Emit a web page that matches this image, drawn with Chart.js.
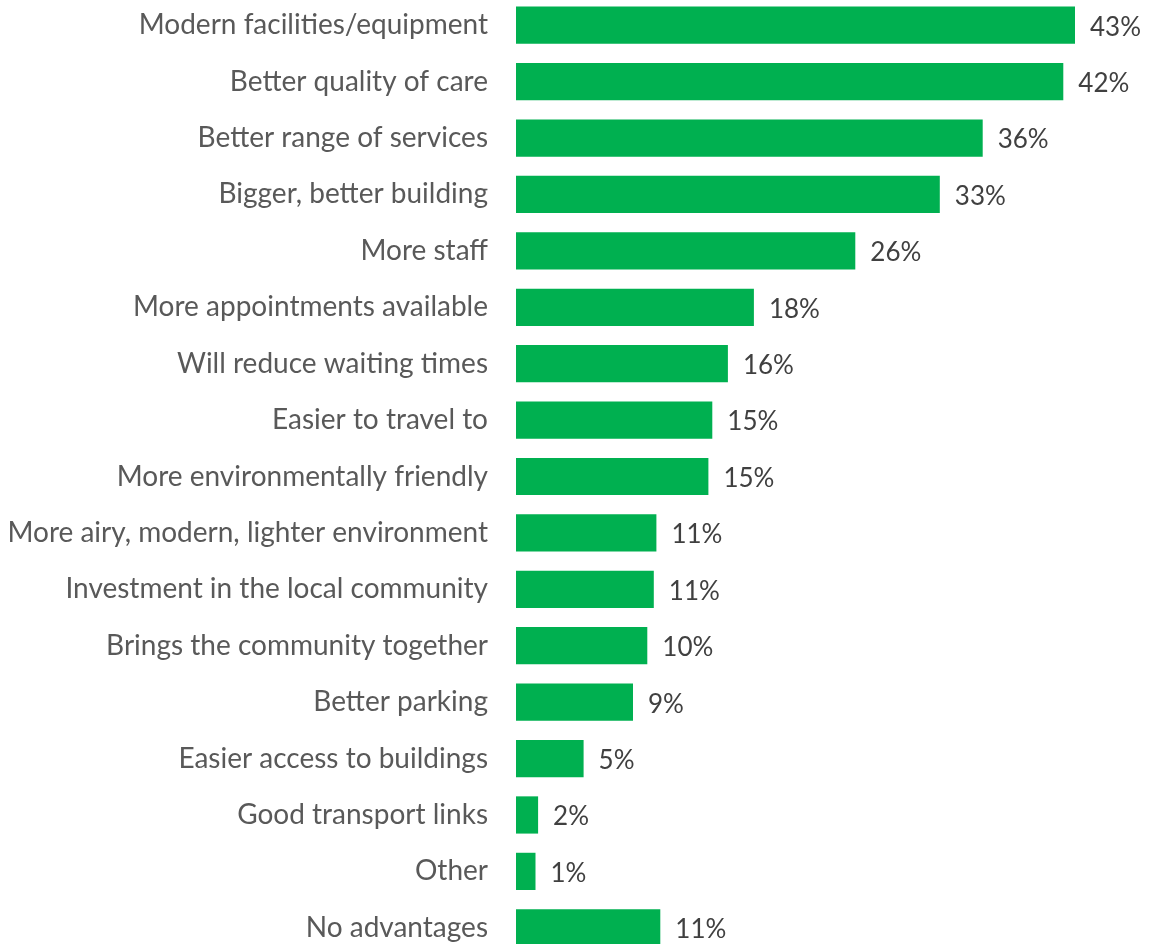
<!DOCTYPE html>
<html>
<head>
<meta charset="utf-8">
<script src="https://cdn.jsdelivr.net/npm/chart.js@4/dist/chart.umd.min.js"></script>
<style>
  html, body { margin: 0; padding: 0; background: #fff; overflow: hidden; }
  .wrap { position: absolute; left: 0; top: -3px; width: 1150px; height: 959px; }
</style>
</head>
<body>
<div class="wrap"><canvas class="chart"></canvas></div>
<script>
const categories = [
    'Modern facilities/equipment',
    'Better quality of care',
    'Better range of services',
    'Bigger, better building',
    'More staff',
    'More appointments available',
    'Will reduce waiting times',
    'Easier to travel to',
    'More environmentally friendly',
    'More airy, modern, lighter environment',
    'Investment in the local community',
    'Brings the community together',
    'Better parking',
    'Easier access to buildings',
    'Good transport links',
    'Other',
    'No advantages'
];
const shares = [43.0, 42.1, 35.9, 32.6, 26.1, 18.3, 16.3, 15.1, 14.8, 10.8, 10.6, 10.1, 9.0, 5.2, 1.7, 1.5, 11.1];
const shareLabels = ['43%', '42%', '36%', '33%', '26%', '18%', '16%', '15%', '15%', '11%', '11%', '10%', '9%', '5%', '2%', '1%', '11%'];

const fontFamily = 'Lato, "Open Sans", sans-serif';

// draws the percentage to the right of each bar
const valueLabels = {
    id: 'valueLabels',
    afterDatasetsDraw(chart) {
        const ctx = chart.ctx;
        const meta = chart.getDatasetMeta(0);
        ctx.save();
        ctx.font = `26px ${fontFamily}`;
        ctx.fillStyle = '#404040';
        ctx.textAlign = 'left';
        ctx.textBaseline = 'middle';
        meta.data.forEach((bar, i) => {
            ctx.fillText(shareLabels[i], bar.x + 15, bar.y + 2);
        });
        ctx.restore();
    }
};

const ctx = document.getElementsByClassName('chart')[0].getContext('2d');
const adsChart = new Chart(ctx, {
    type: 'bar',
    data: {
        labels: categories,
        datasets: [{
            data: shares,
            backgroundColor: '#00B050',
            borderWidth: 0,
            barPercentage: 0.66,
            categoryPercentage: 1
        }]
    },
    options: {
        indexAxis: 'y',
        responsive: true,
        maintainAspectRatio: false,
        animation: false,
        layout: { padding: { left: 0, right: 10, top: 0, bottom: 0 } },
        plugins: {
            legend: { display: false },
            tooltip: { enabled: false }
        },
        scales: {
            x: {
                display: false,
                min: 0,
                max: 48
            },
            y: {
                border: { display: false },
                grid: { display: false, drawTicks: false },
                ticks: {
                    color: '#595959',
                    padding: 28,
                    font: { family: fontFamily, size: 28 }
                },
                afterFit(scale) {
                    scale.width = 516;
                    scale.paddingTop = 0;
                    scale.paddingBottom = 0;
                }
            }
        }
    },
    plugins: [valueLabels]
});
</script>
</body>
</html>
